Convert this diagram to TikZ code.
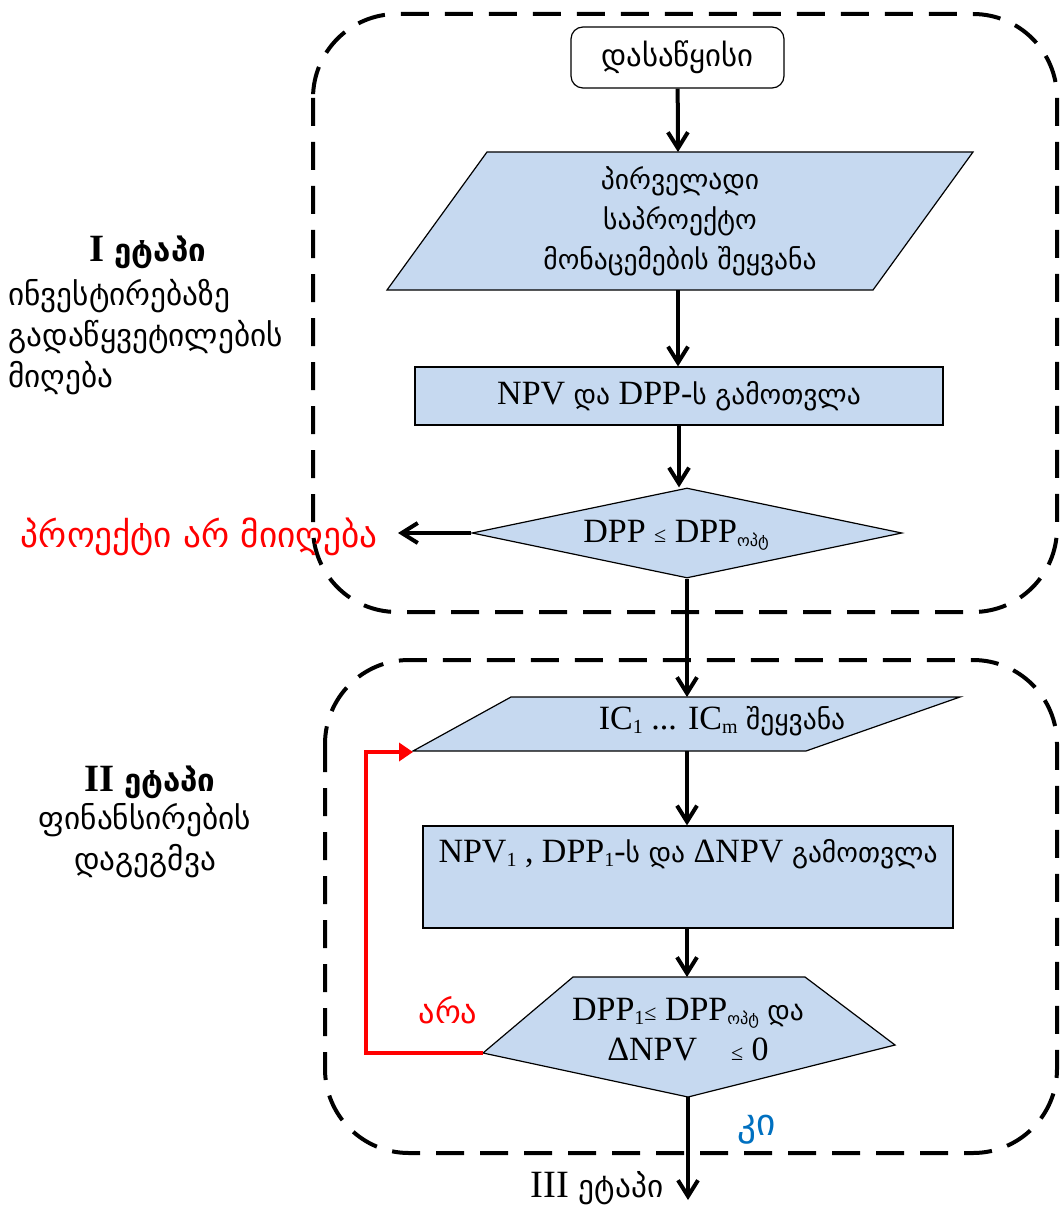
\documentclass[tikz,border=0pt]{standalone}
\usepackage{fontspec}
\setmainfont{Liberation Serif}
\newfontfamily\kafont{DejaVu Sans}[Scale=0.81]
\usetikzlibrary{arrows.meta,shapes.geometric,positioning}
\definecolor{boxblue}{HTML}{C6D9F0}
\definecolor{nored}{HTML}{FF0000}
\definecolor{yesblue}{HTML}{0070C0}
\newcommand{\kat}[1]{{\kafont #1}}
\newcommand{\sub}[1]{\raisebox{-0.25ex}{\fontsize{10}{10}\selectfont #1}}
\newcommand{\sle}{{\fontsize{11}{11}\selectfont ≤}}
\tikzset{
  >={Straight Barb[length=8pt,width=10pt]},
  txt/.style={font=\fontsize{17}{20}\selectfont, inner sep=2pt},
  stage/.style={draw, line width=2pt, dash pattern=on 14pt off 8pt, rounded corners=42pt},
  flowbox/.style={draw, fill=boxblue, line width=0.6pt, txt},
  startbox/.style={draw, fill=white, line width=0.6pt, rounded corners=6pt, font=\fontsize{19}{20}\selectfont},
  flow/.style={line width=2pt, ->},
  backflow/.style={nored, line width=2pt, -{Triangle[length=7pt,width=9pt]}},
  sidetxt/.style={font=\fontsize{19.3}{20.5}\selectfont, inner sep=0pt},
  marktxt/.style={font=\fontsize{21}{22}\selectfont},
}
\begin{document}
\begin{tikzpicture}[x=0.5pt, y=-0.5pt]
\useasboundingbox (0,0) rectangle (1060,1209);
% the two stages
\draw[stage] (313,14) rectangle (1057,612);
\draw[stage] (325,660) rectangle (1057,1153);
\node[sidetxt] (stageone) at (148,252) {\bfseries I \kat{ეტაპი}};
\node[sidetxt, align=left, anchor=north west] (stageonetxt) at (8,279)
  {\kat{ინვესტირებაზე}\\\kat{გადაწყვეტილების}\\\kat{მიღება}};
\node[sidetxt] (stagetwo) at (150,782) {\bfseries II \kat{ეტაპი}};
\node[sidetxt, align=center] (stagetwotxt) at (145,841) {\kat{ფინანსირების}\\\kat{დაგეგმვა}};
% stage I
\node[startbox, minimum width=106.5pt, minimum height=30.5pt] (start) at (677.5,57.5) {\kat{დასაწყისი}};
\filldraw[flowbox] (487,152) -- (973,152) -- (873,290) -- (387,290) -- cycle;
\coordinate (inTop) at (678,152);
\coordinate (inBot) at (678,290);
\node[txt, align=center] (input) at (680,221)
  {\kat{პირველადი}\\\kat{საპროექტო}\\\kat{მონაცემების შეყვანა}};
\node[flowbox, minimum width=264pt, minimum height=29pt] (calc) at (679,396)
  {NPV \kat{და} DPP-\kat{ს} \kat{გამოთვლა}};
\node[flowbox, diamond, aspect=4.8, minimum width=215pt, minimum height=45pt, inner sep=0pt]
  (check) at (687,533) {};
\node[txt] (checktxt) at (676,535) {DPP \sle{} DPP\sub{\kat{ოპტ}}};
\node[marktxt, font=\fontsize{21.8}{22}\selectfont, text=nored, anchor=east, inner sep=0pt] (reject) at (378,537)
  {\kat{პროექტი არ მიიღება}};
\draw[flow] (start) -- (inTop);
\draw[flow] (inBot) -- (inBot |- calc.north);
\draw[flow] (calc.south) -- (calc.south |- check.north);
\draw[flow] (check.west) -- ([xshift=10pt]check.west -| reject.east);
% stage II
\filldraw[flowbox] (511,697) -- (960,697) -- (806,751) -- (413,751) -- cycle;
\coordinate (icTop) at (687,697);
\coordinate (icBot) at (687,751);
\coordinate (icLeft) at (413,752);
\node[txt] (ic) at (722,721) {IC\sub{1} ... IC\sub{m} \kat{შეყვანა}};
\node[flowbox, minimum width=265pt, minimum height=51pt] (calcone) at (688,877) {};
\node[txt, below=5pt of calcone.north] (calconetxt)
  {NPV\sub{1} , DPP\sub{1}-\kat{ს} \kat{და} ΔNPV \kat{გამოთვლა}};
\filldraw[flowbox] (573,977) -- (805,977) -- (895,1045) -- (688,1097) -- (483,1053) -- cycle;
\coordinate (decTop) at (687,977);
\coordinate (decBot) at (688,1097);
\coordinate (decLeft) at (483,1053);
\node[txt, align=center] (decide) at (688,1030)
  {DPP\sub{1}\sle{} DPP\sub{\kat{ოპტ}} \kat{და}\\ΔNPV\quad\sle{} 0};
\coordinate (next) at (688,1200);
\draw[flow] (check.south) -- (icTop);
\draw[flow] (icBot) -- (icBot |- calcone.north);
\draw[flow] (calcone.south -| decTop) -- (decTop);
\draw[flow] (decBot) -- (next);
\draw[backflow] (decLeft) -- ++(-117,0) |- (icLeft);
\node[marktxt, font=\fontsize{20}{20}\selectfont, text=nored] (no) at (448,1010) {\kat{არა}};
\node[marktxt, font=\fontsize{23}{23}\selectfont, text=yesblue] (yes) at (757,1130) {\kat{კი}};
\node[sidetxt] (stagethree) at (597,1188) {III \kat{ეტაპი}};
\end{tikzpicture}
\end{document}
